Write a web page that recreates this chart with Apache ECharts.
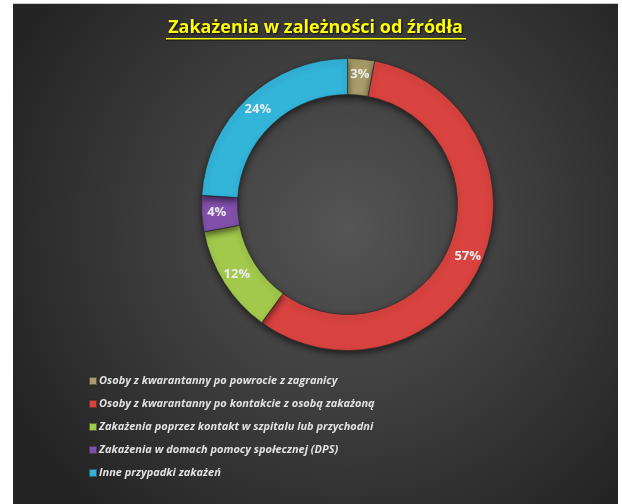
<!DOCTYPE html>
<html>
<head>
<meta charset="utf-8">
<script src="https://cdn.jsdelivr.net/npm/echarts@6/dist/echarts.min.js"></script>
<style>
  html, body { margin: 0; padding: 0; background: #fff; }
  #chart {
    position: absolute;
    left: 13px;
    top: 3px;
    width: 605px;
    height: 501px;
    border-top: 1px solid #c8c8c8;
    box-sizing: border-box;
  }
</style>
</head>
<body>
<div id="chart"></div>
<script>
// źródła zakażeń
const categories = [
  "Osoby z kwarantanny po powrocie z zagranicy",
  "Osoby z kwarantanny po kontakcie z osobą zakażoną",
  "Zakażenia poprzez kontakt w szpitalu lub przychodni",
  "Zakażenia w domach pomocy społecznej (DPS)",
  "Inne przypadki zakażeń",
];
const shares = [3, 57, 12, 4, 24];
const colors = ["#a89c6a", "#d8433f", "#a2c84c", "#8150ab", "#33b4d9"];

const chart = echarts.init(document.getElementById("chart"));

chart.setOption({
  backgroundColor: {
    type: "radial",
    x: 0.55,
    y: 0.45,
    r: 0.75,
    colorStops: [
      { offset: 0, color: "#555555" },
      { offset: 1, color: "#242424" },
    ],
  },
  title: {
    text: "Zakażenia w zależności od źródła",
    left: "center",
    top: 10,
    textStyle: {
      color: "#ffff00",
      fontFamily: "Open Sans",
      fontSize: 18,
      fontWeight: "bold",
      textShadowColor: "rgba(0,0,0,0.8)",
      textShadowBlur: 2,
      textShadowOffsetX: 1,
      textShadowOffsetY: 1,
    },
  },
  // podkreślenie tytułu
  graphic: [
    {
      type: "rect",
      left: 153,
      top: 34,
      shape: { width: 300, height: 1.5 },
      style: { fill: "#ffff00", shadowColor: "rgba(0,0,0,0.8)", shadowOffsetY: 1 },
    },
  ],
  legend: {
    orient: "vertical",
    left: 75,
    top: 370,
    padding: 0,
    itemWidth: 8,
    itemHeight: 8,
    itemGap: 9,
    icon: "rect",
    data: categories,
    textStyle: {
      color: "#e2e2e2",
      fontFamily: "Open Sans",
      fontStyle: "italic",
      fontWeight: "bold",
      fontSize: 11,
      lineHeight: 14,
      padding: [0, 0, 0, -3],
    },
  },
  series: [
    {
      type: "pie",
      center: [334.5, 200.5],
      radius: [110, 146],
      startAngle: 90,
      clockwise: true,
      silent: true,
      data: categories.map((name, i) => ({
        name: name,
        value: shares[i],
        itemStyle: { color: colors[i] },
      })),
      itemStyle: {
        borderColor: "rgba(40,40,40,0.6)",
        borderWidth: 1,
        shadowColor: "rgba(0,0,0,0.55)",
        shadowBlur: 6,
        shadowOffsetY: 3,
      },
      label: {
        show: true,
        position: "inside",
        formatter: "{c}%",
        color: "#ececec",
        fontFamily: "Open Sans",
        fontWeight: "bold",
        fontSize: 13,
      },
      labelLine: { show: false },
    },
  ],
});
</script>
</body>
</html>
